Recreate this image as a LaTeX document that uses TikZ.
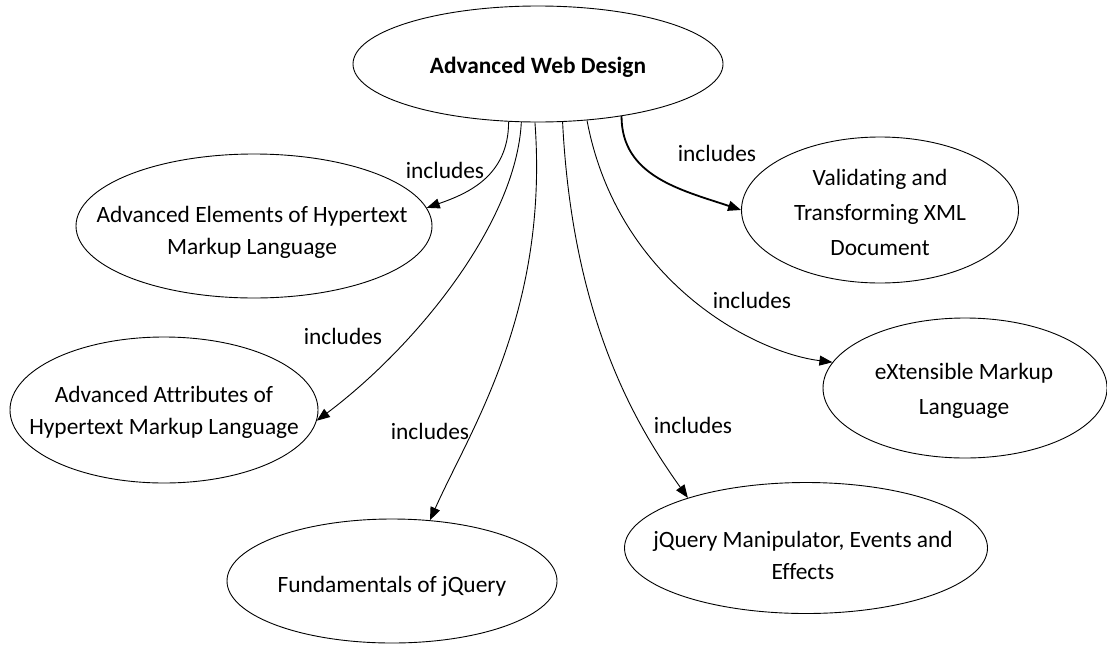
\documentclass[tikz,border=0pt]{standalone}
\usepackage{fontspec}
\setmainfont{Carlito}[Ligatures=NoCommon]
\usetikzlibrary{arrows.meta,shapes.geometric}
\begin{document}
\begin{tikzpicture}[x=1pt,y=-1pt,
  topic/.style={draw=black, line width=0.9pt, shape=ellipse, inner sep=0pt},
  ttext/.style={align=center, inner sep=0pt, font=\fontsize{23.4}{32}\selectfont},
  rel/.style={draw=black, line width=0.9pt, -{Triangle[length=13pt,width=10pt]}},
  lbl/.style={inner sep=1pt, font=\fontsize{23.4}{28}\selectfont}]
\useasboundingbox (0,0) rectangle (1107,645);

% ellipses
\node[topic, minimum width=370pt, minimum height=116pt] (top) at (538,64) {};
\node[ttext, font=\fontsize{23.4}{32}\selectfont\bfseries] (top-t) at (538,67) {Advanced Web Design};

\node[topic, minimum width=356pt, minimum height=144pt] (elem) at (254,226) {};
\node[ttext] (elem-t) at (252,232) {Advanced Elements of Hypertext\\Markup Language};

\node[topic, minimum width=308pt, minimum height=146pt] (attr) at (164,410) {};
\node[ttext] (attr-t) at (164,412) {Advanced Attributes of\\Hypertext Markup Language};

\node[topic, minimum width=330pt, minimum height=124pt] (fund) at (392,581) {};
\node[ttext] (fund-t) at (392,586) {Fundamentals of jQuery};

\node[topic, minimum width=363pt, minimum height=131pt] (jqm) at (806,548) {};
\node[ttext] (jqm-t) at (803,555) {jQuery Manipulator, Events and\\Effects};

\node[topic, minimum width=284pt, minimum height=140pt] (xml) at (965,388) {};
\node[ttext, font=\fontsize{23.4}{35}\selectfont] (xml-t) at (964,391) {eXtensible Markup\\Language};

\node[topic, minimum width=277pt, minimum height=146pt] (val) at (880,210) {};
\node[ttext, font=\fontsize{23.4}{35}\selectfont] (val-t) at (880,212) {Validating and\\Transforming XML\\Document};

% connectors
\draw[rel] (top.243) .. controls +(0,55) and +(40,-14) .. (elem.6);
\draw[rel] (top.254.5) .. controls +(-5,100) and +(100,-75) .. (attr.356);
\draw[rel] (top.267) .. controls +(14,190) and +(40,-90) .. (fund.58);
\draw[rel] (top.293.5) .. controls +(10,200) and +(-50,-70) .. (jqm.157);
\draw[rel] (top.311.9) .. controls +(30,160) and +(-80,-10) .. (xml.169);
\draw[rel, line width=1.8pt] (top.328.8) .. controls +(0,60) and +(-60,-20) .. (val.180);

% labels
\node[lbl] (l1) at (445,170) {includes};
\node[lbl] (l2) at (343,336) {includes};
\node[lbl] (l3) at (430,431) {includes};
\node[lbl] (l4) at (693,425) {includes};
\node[lbl] (l5) at (752,300) {includes};
\node[lbl] (l6) at (717,153) {includes};
\end{tikzpicture}
\end{document}
